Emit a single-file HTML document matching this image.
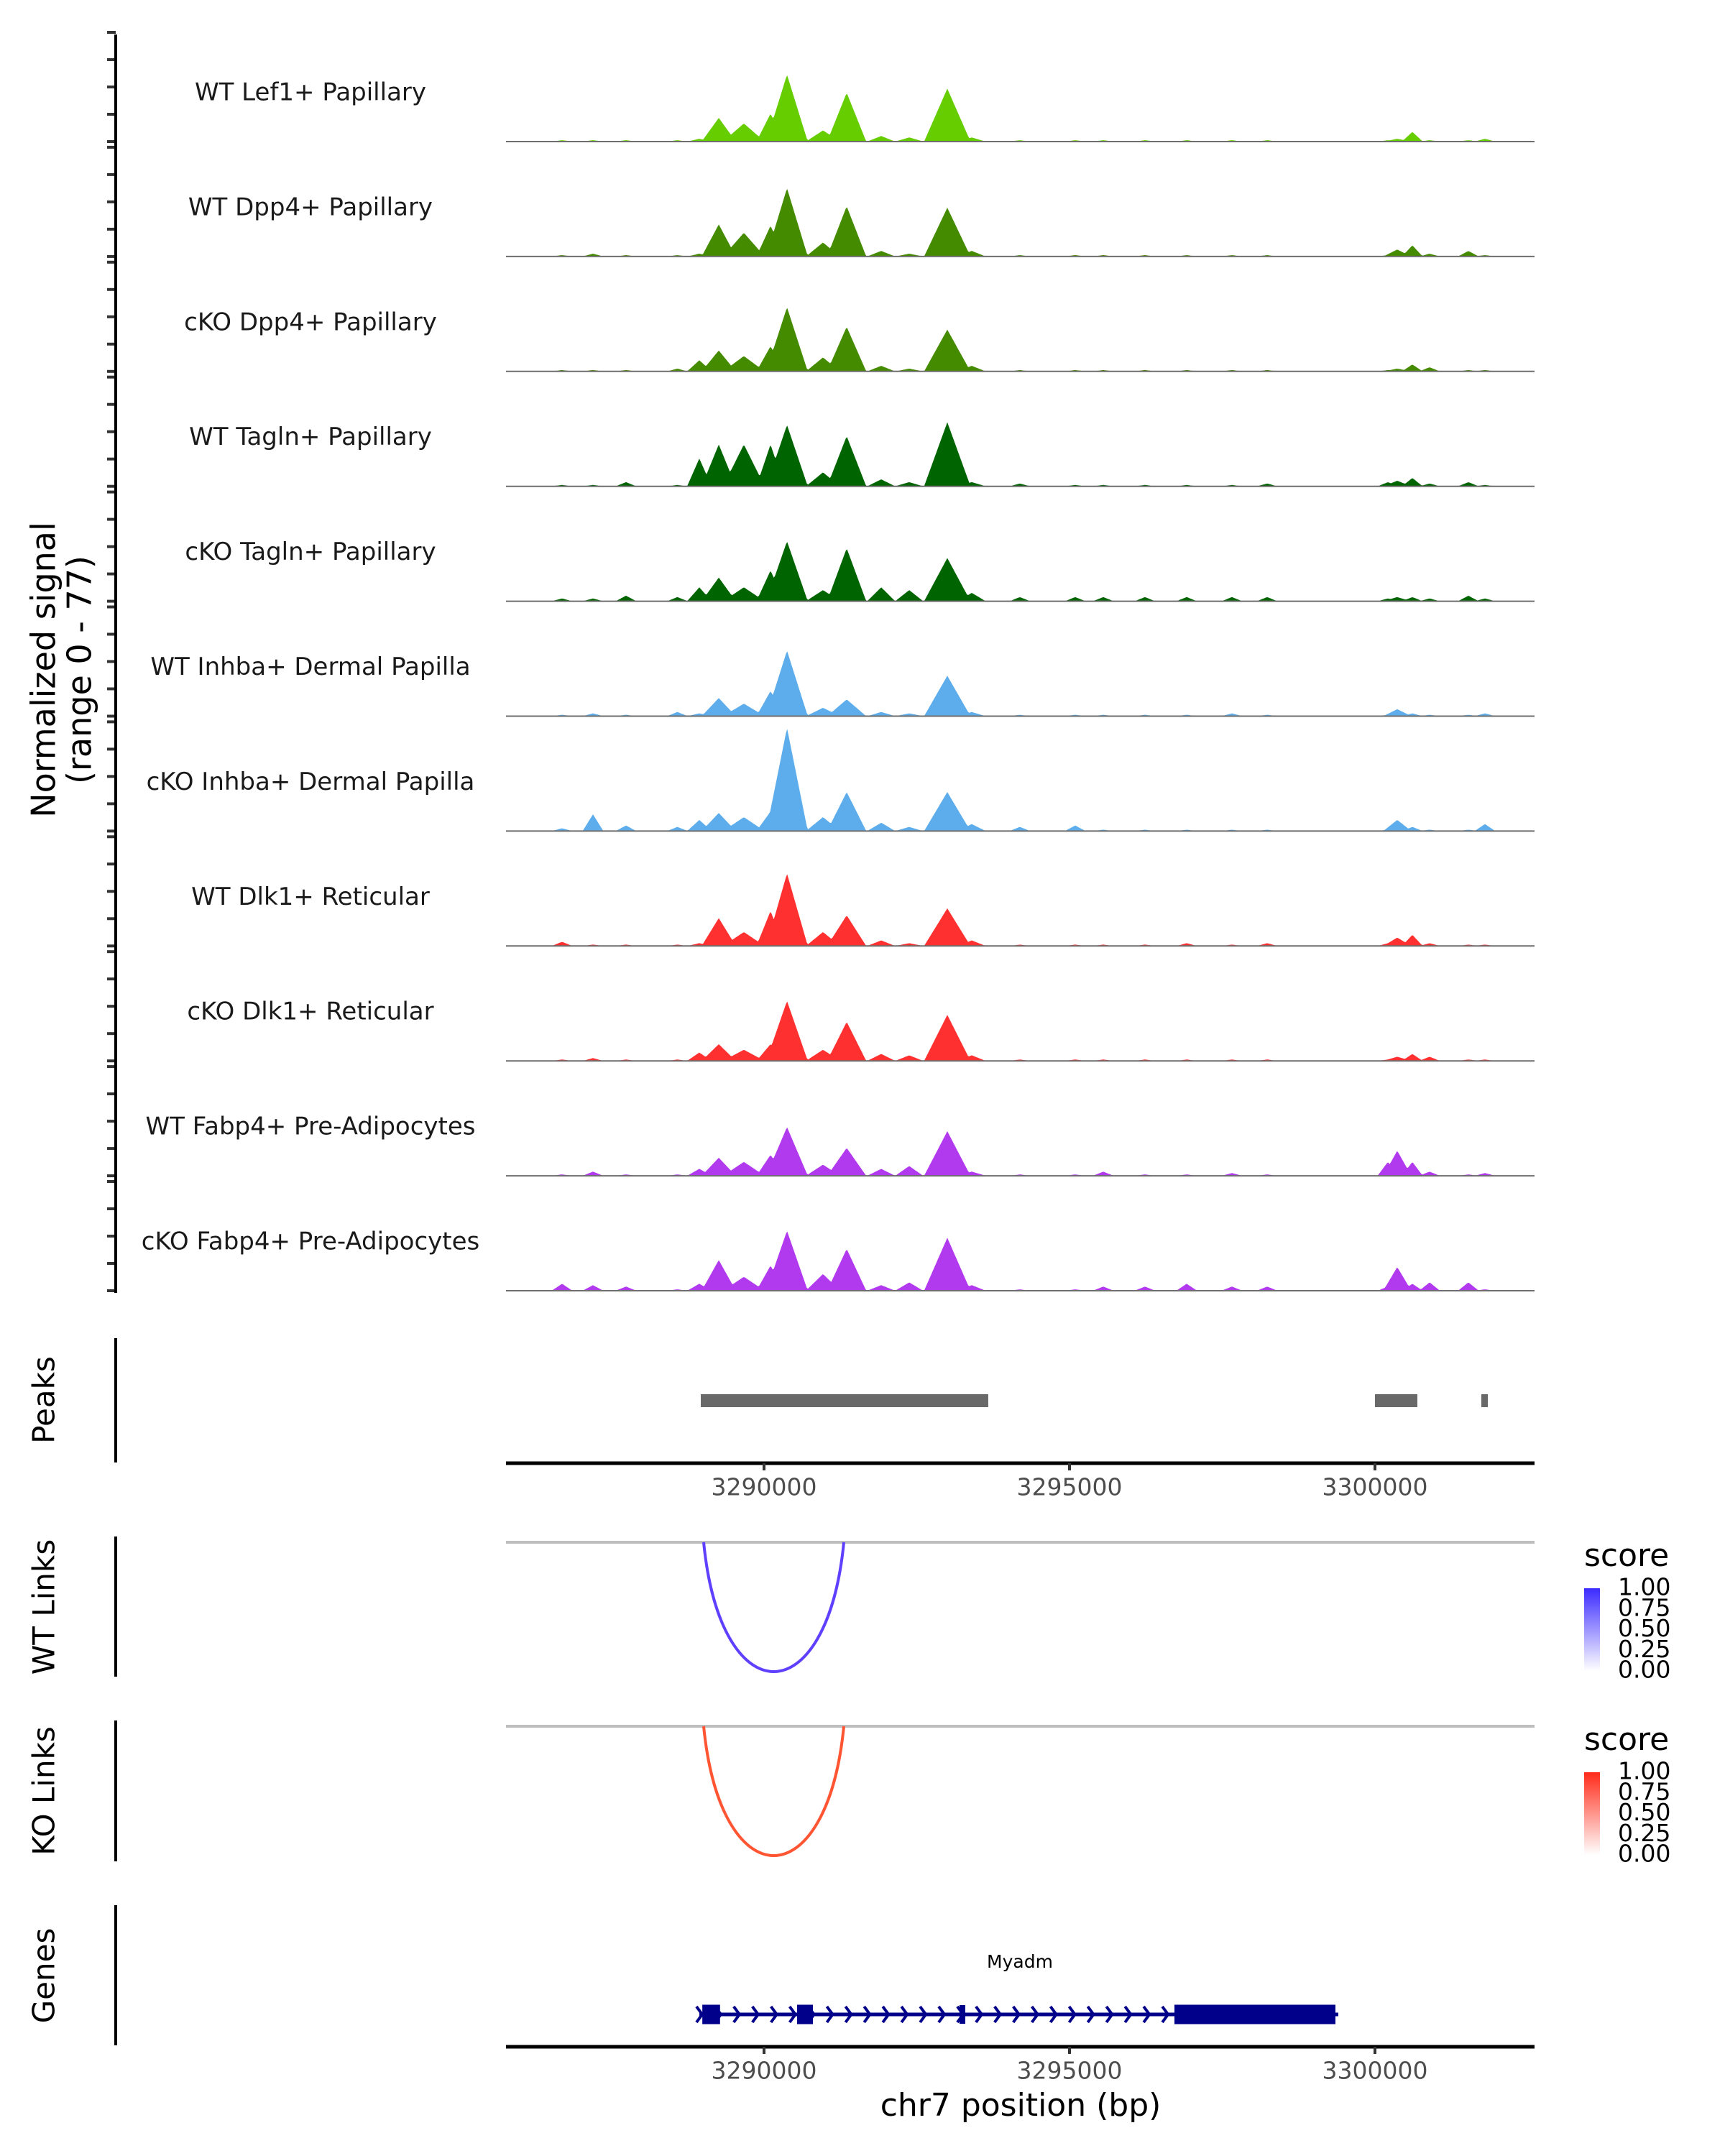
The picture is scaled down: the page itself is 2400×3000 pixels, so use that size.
<!DOCTYPE html>
<html><head><meta charset="utf-8"><style>
html,body{margin:0;padding:0;background:#fff;}
svg{display:block;font-family:"DejaVu Sans","Liberation Sans",sans-serif;}
</style></head><body>
<svg id="chart" width="2400" height="3000" viewBox="0 0 2400 3000" xmlns="http://www.w3.org/2000/svg">
<g id="tracks"></g>
<g id="peaks"></g>
<g id="links"></g>
<g id="genes"></g>
<g id="axes"></g>
</svg>
<script>
// ---- data ----
const trackNames = ["WT Lef1+ Papillary","WT Dpp4+ Papillary","cKO Dpp4+ Papillary","WT Tagln+ Papillary","cKO Tagln+ Papillary","WT Inhba+ Dermal Papilla","cKO Inhba+ Dermal Papilla","WT Dlk1+ Reticular","cKO Dlk1+ Reticular","WT Fabp4+ Pre-Adipocytes","cKO Fabp4+ Pre-Adipocytes"];
const trackColors = ["#66CD00","#458B00","#458B00","#006400","#006400","#5DADEC","#5DADEC","#FF3030","#FF3030","#B23AEE","#B23AEE"];
const peakPos = [3286694,3287200,3287741,3288582,3288941,3289259,3289670,3290106,3290376,3290965,3291353,3291918,3292376,3293000,3293400,3294188,3295094,3295553,3296235,3296918,3297659,3298235,3300212,3300365,3300612,3300894,3301529,3301800];
const peakHalfWidth = [170,170,170,170,200,280,340,230,340,280,320,230,230,380,230,170,170,170,170,170,170,170,170,230,170,170,170,170];
const sig0 = [1,1,1,1,2,17,13,20,48,8,35,4,3,38,3,1,1,1,1,1,1,1,1,2,7,1,1,2];
const sig1 = [1,2,1,1,2,23,17,22,49,10,36,4,2,35,4,1,1,1,1,1,1,1,1,5,8,2,4,1];
const sig2 = [1,1,1,2,8,15,11,18,46,10,32,4,2,30,4,1,1,1,1,1,1,1,1,2,5,3,1,1];
const sig3 = [1,1,3,1,20,30,30,30,44,10,36,5,3,46,3,2,1,1,1,1,1,2,3,4,6,2,3,1];
const sig4 = [2,2,4,3,10,17,10,22,43,8,38,10,8,31,6,3,3,3,3,3,3,3,2,3,3,2,4,2];
const sig5 = [1,2,1,3,2,13,9,18,47,6,12,3,2,29,3,1,1,1,1,1,2,1,1,5,2,1,1,2];
const sig6 = [2,12,4,3,8,13,10,14,74,10,28,6,3,28,5,3,4,1,1,1,1,1,1,8,3,1,1,5];
const sig7 = [3,1,1,1,2,20,10,25,52,10,22,4,2,27,4,1,1,1,1,2,1,2,2,6,8,2,1,1];
const sig8 = [1,2,1,1,6,12,8,12,43,8,28,5,4,33,4,1,1,1,1,1,1,1,1,3,5,3,1,1];
const sig9 = [1,3,1,1,5,13,10,15,35,8,20,5,7,32,3,1,1,3,1,1,2,1,10,18,10,3,1,2];
const sig10 = [5,4,3,1,5,22,10,18,43,12,30,4,6,38,4,1,1,3,3,5,3,3,3,17,5,6,6,1];
const signals = [sig0,sig1,sig2,sig3,sig4,sig5,sig6,sig7,sig8,sig9,sig10];
const xTicks = [3290000,3295000,3300000];
const peakRegions = [[3288965,3293670],[3300000,3300694],[3301741,3301847]];
const wtLinks = [[3289012,3291306,1.0]];
const koLinks = [[3289012,3291306,1.0]];
const geneName = "Myadm";
const geneStart = 3288941, geneEnd = 3299400;
const exons = [[3288990,3289280],[3290541,3290800],[3293200,3293294],[3296718,3299353]];
const legendTicks = ["1.00","0.75","0.50","0.25","0.00"];

// ---- scales ----
const X0=704, X1=2135;
function xs(bp){return 1063+(bp-3290000)*0.085;}
const base0=197, trackGap=159.9, pxPerUnit=1.94;
function ys(i,v){return base0+i*trackGap - v*pxPerUnit;}

const NS="http://www.w3.org/2000/svg";
function mk(tag,attrs,parent){const e=document.createElementNS(NS,tag);for(const k in attrs)e.setAttribute(k,attrs[k]);parent.appendChild(e);return e;}

// ---- coverage tracks ----
const gT=document.getElementById('tracks');
signals.forEach((sig,i)=>{
  const g=mk('g',{},gT);
  
  
  let d='M'+X0+','+ys(i,0);
  for(let bp=3286300; bp<=3302000; bp+=20){
    let v=0;
    for(let k=0;k<peakPos.length;k++){
      const dd=Math.abs(bp-peakPos[k])/peakHalfWidth[k];
      if(dd<1){const c=sig[k]*Math.pow(1-dd,1.0); if(c>v)v=c;}
    }
    d+=' L'+xs(bp).toFixed(1)+','+ys(i,v).toFixed(1);
  }
  d+=' L'+X1+','+ys(i,0)+' Z';
  const p=mk('path',{d:d,fill:trackColors[i]},g);
  
  
  const l=mk('line',{x1:X0,x2:X1,y1:ys(i,0),y2:ys(i,0),stroke:'#6e6e6e','stroke-width':2},g);
  
  
  const t=mk('text',{x:432,y:ys(i,0)-67,'font-size':34,'text-anchor':'middle','dominant-baseline':'middle',fill:'#1a1a1a'},g);
  t.textContent=trackNames[i];
  
  
  for(let k=0;k<5;k++){
    const ty=ys(i,0)-k*38;
    const tk=mk('line',{x1:149,x2:161,y1:ty,y2:ty,stroke:'#333','stroke-width':4},g);
    
    
  }
});
const gA=document.getElementById('axes');
function vline(x,y1,y2,name){const l=mk('line',{x1:x,x2:x,y1:y1,y2:y2,stroke:'#000','stroke-width':4},gA);}
vline(161,48,1799,'y-axis-line');
vline(161,1862,2035,'peaks-axis-line');
vline(161,2138,2333,'wt-links-axis-line');
vline(161,2394,2590,'ko-links-axis-line');
vline(161,2651,2846,'genes-axis-line');
function rtext(x,y,txt,size,name){const t=mk('text',{x:x,y:y,'font-size':size,'text-anchor':'middle','dominant-baseline':'middle',fill:'#000',transform:'rotate(-90 '+x+' '+y+')'},gA);t.textContent=txt;}
rtext(64,932,'Normalized signal',46,'y-axis-title');
rtext(114,932,'(range 0 - 77)',46,'y-axis-subtitle');
rtext(64,1948,'Peaks',42,'peaks-label');
rtext(64,2236,'WT Links',42,'wt-links-label');
rtext(64,2492,'KO Links',42,'ko-links-label');
rtext(64,2749,'Genes',42,'genes-label');

// ---- peaks ----
const gP=document.getElementById('peaks');
peakRegions.forEach(r=>{
  const rc=mk('rect',{x:xs(r[0]),y:1940,width:xs(r[1])-xs(r[0]),height:18,fill:'#696969'},gP);
  
  
});
function xaxis(y,ly,name){
  const l=mk('line',{x1:X0,x2:X1,y1:y,y2:y,stroke:'#000','stroke-width':5},gA);
  
  
  xTicks.forEach(t=>{
    const tk=mk('line',{x1:xs(t),x2:xs(t),y1:y,y2:y+10,stroke:'#333','stroke-width':4},gA);
    
    
    const tt=mk('text',{x:xs(t),y:ly,'font-size':33,'text-anchor':'middle','dominant-baseline':'middle',fill:'#4d4d4d'},gA);
    tt.textContent=t;
    
    
  });
}
xaxis(2036,2071,'peaks-x-axis');
xaxis(2848,2883,'genes-x-axis');
const xt=mk('text',{x:1420,y:2932,'font-size':44,'text-anchor':'middle','dominant-baseline':'middle',fill:'#000'},gA);
xt.textContent='chr7 position (bp)';



// ---- links ----
const gL=document.getElementById('links');
function linkPanel(links,y0,yb,color,name){
  const g=mk('g',{},gL);
  
  
  const gl=mk('line',{x1:X0,x2:X1,y1:y0,y2:y0,stroke:'#bebebe','stroke-width':4},g);
  
  
  links.forEach(k=>{
    const a=xs(k[0]),b=xs(k[1]);const depth=(yb-y0)*k[2];
    const c=y0+depth/0.75;
    const ia=a+(b-a)*0.12, ib=b-(b-a)*0.12;
    const p=mk('path',{d:'M'+a+','+y0+' C'+ia+','+c+' '+ib+','+c+' '+b+','+y0,fill:'none',stroke:color,'stroke-width':4},g);
    
    
  });
}
linkPanel(wtLinks,2146,2326,'#6040FF','wt-links');
linkPanel(koLinks,2402,2582,'#FF5533','ko-links');

// legends
function legend(y,c,name){
  const g=mk('g',{},gL);
  
  
  const t=mk('text',{x:2204,y:y,'font-size':44,'dominant-baseline':'middle',fill:'#000'},g);
  t.textContent='score';
  const id='lg'+name;
  const df=mk('defs',{},g);
  const lg=mk('linearGradient',{id:id,x1:0,y1:0,x2:0,y2:1},df);
  mk('stop',{offset:'0',"stop-color":c},lg);
  mk('stop',{offset:'1',"stop-color":'#ffffff'},lg);
  const top=y+43, bot=y+158;
  const r=mk('rect',{x:2204,y:top,width:22,height:bot-top,fill:'url(#'+id+')'},g);
  
  
  legendTicks.forEach((lab,k)=>{
    const ty=top+k*(bot-top)/4;
    const tt=mk('text',{x:2251,y:ty,'font-size':33,'dominant-baseline':'middle',fill:'#000'},g);
    tt.textContent=lab;
    
    
  });
}
legend(2167,'#3B2BFF','wt-legend');
legend(2423,'#FF2B1A','ko-legend');

// ---- genes ----
const gG=document.getElementById('genes');
const gy=2803;
const gl=mk('line',{x1:xs(geneStart),x2:xs(geneEnd),y1:gy,y2:gy,stroke:'#00008B','stroke-width':5},gG);


for(let bp=geneStart; bp<exons[3][0]; bp+=305){
  const x=xs(bp);
  const ch=mk('path',{d:'M'+(x-4)+','+(gy-11)+' L'+(x+4)+','+gy+' L'+(x-4)+','+(gy+11),fill:'none',stroke:'#00008B','stroke-width':4},gG);
  
  
}
exons.forEach((e,k)=>{
  const h=k===2?26:27;
  const r=mk('rect',{x:xs(e[0]),y:gy-h/2,width:Math.max(5,xs(e[1])-xs(e[0])),height:h,fill:'#00008B'},gG);
  
  
});
const gn=mk('text',{x:1419,y:2731,'font-size':25,'text-anchor':'middle','dominant-baseline':'middle',fill:'#000'},gG);
gn.textContent=geneName;


</script>
</body></html>
